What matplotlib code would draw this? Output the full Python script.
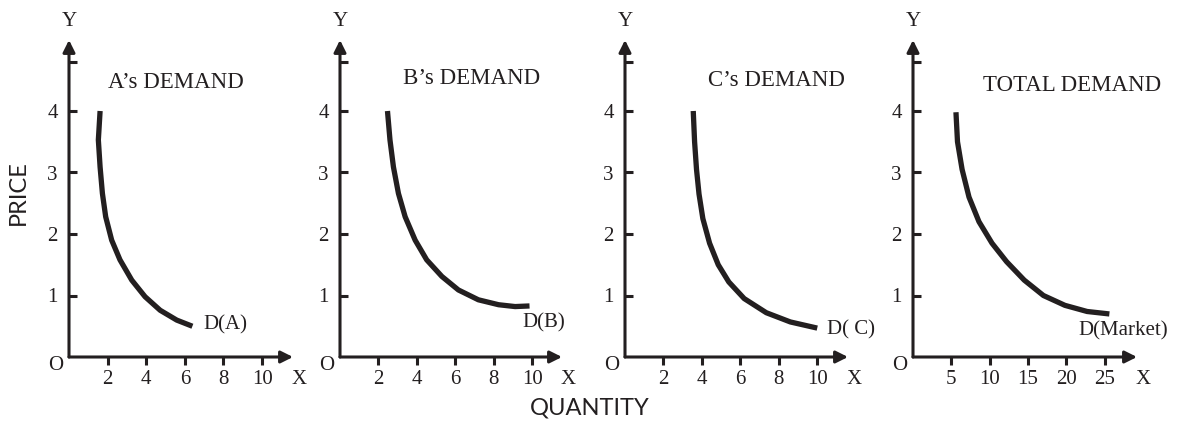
import matplotlib
matplotlib.use("Agg")
from matplotlib import pyplot as plt

# demand schedules (quantity, price)
qty_a = [1.61, 1.52, 1.61, 1.73, 1.90, 2.21, 2.64, 3.25, 3.94, 4.72, 5.58, 6.39]
price_a = [4.0, 3.53, 3.09, 2.66, 2.28, 1.90, 1.58, 1.25, 0.98, 0.76, 0.60, 0.50]

qty_b = [2.47, 2.60, 2.78, 3.04, 3.39, 3.91, 4.51, 5.30, 6.16, 7.20, 8.25, 9.11, 9.86]
price_b = [4.0, 3.53, 3.09, 2.66, 2.28, 1.90, 1.58, 1.31, 1.09, 0.93, 0.85, 0.82, 0.83]

qty_c = [3.55, 3.62, 3.72, 3.85, 4.05, 4.4, 4.85, 5.4, 6.2, 7.35, 8.6, 10.0]
price_c = [4.0, 3.5, 3.05, 2.65, 2.25, 1.85, 1.5, 1.22, 0.95, 0.72, 0.57, 0.47]

qty_tot = [5.6, 5.8, 6.4, 7.3, 8.6, 10.3, 12.2, 14.5, 17.0, 19.8, 22.7, 25.6]
price_tot = [3.98, 3.5, 3.05, 2.6, 2.2, 1.85, 1.55, 1.25, 1.0, 0.84, 0.74, 0.7]

titles = ["A’s DEMAND", "B’s DEMAND", "C’s DEMAND", "TOTAL DEMAND"]
curve_labels = ["D(A)", "D(B)", "D( C)", "D(Market)"]
x_ticks = [[2, 4, 6, 8, 10], [2, 4, 6, 8, 10], [2, 4, 6, 8, 10], [5, 10, 15, 20, 25]]
y_ticks = [1, 2, 3, 4]

INK = "#231f20"
W, H = 1190, 433
serif = "Liberation Serif"

fig = plt.figure(figsize=(W / 100, H / 100), dpi=100)

# panel layout in pixels: y-axis x, arrow tip x, x-axis max value, title pos, curve label pos
panels = [
    (69, 293, 11.6, (2.0, 4.47), (6.95, 0.52)),
    (340, 562, 11.55, (3.3, 4.53), (9.5, 0.56)),
    (625, 848, 11.6, (4.3, 4.5), (10.5, 0.44)),
    (913, 1137, 29.2, (9.1, 4.42), (21.5, 0.42)),
]
curves = [(qty_a, price_a), (qty_b, price_b), (qty_c, price_c), (qty_tot, price_tot)]

x0_px, top_px = 357, 40
ymax = (x0_px - top_px) / 61.5

for i, (yx, tip, xmax, tpos, lpos) in enumerate(panels):
    ax = fig.add_axes([yx / W, (H - x0_px) / H, (tip - yx) / W, (x0_px - top_px) / H])
    ax.set_xlim(0, xmax)
    ax.set_ylim(0, ymax)
    for s in ax.spines.values():
        s.set_visible(False)
    ax.patch.set_alpha(0)

    # axis lines with arrow heads
    arr = dict(arrowstyle="-|>", lw=2.2, color=INK, mutation_scale=18,
               shrinkA=0, shrinkB=0)
    ax.annotate("", xy=(1, 0), xytext=(0, 0), xycoords="axes fraction",
                arrowprops=arr, annotation_clip=False)
    ax.annotate("", xy=(0, 1), xytext=(0, 0), xycoords="axes fraction",
                arrowprops=arr, annotation_clip=False)

    ax.set_xticks(x_ticks[i])
    ax.set_xticklabels([str(t) for t in x_ticks[i]], fontfamily=serif, fontsize=15)
    ax.set_yticks(y_ticks + [4.8])
    ax.set_yticklabels([str(t) for t in y_ticks] + [""], fontfamily=serif, fontsize=15)
    ax.tick_params(axis="x", direction="out", length=6, width=2.2, color=INK,
                   labelcolor=INK, pad=3)
    ax.tick_params(axis="y", direction="in", length=6, width=2.2, color=INK,
                   labelcolor=INK, pad=8)

    q, p = curves[i]
    ax.plot(q, p, color=INK, lw=3.8, solid_capstyle="butt", solid_joinstyle="round")

    ax.text(tpos[0], tpos[1], titles[i], fontfamily=serif, fontsize=16.5,
            color=INK, ha="left", va="center")
    ax.text(lpos[0], lpos[1], curve_labels[i], fontfamily=serif, fontsize=15,
            color=INK, ha="left", va="center")

    ax.annotate("O", xy=(0, 0), xycoords="axes fraction", xytext=(-13, -8),
                textcoords="offset pixels", ha="center", va="center",
                fontfamily=serif, fontsize=15, color=INK)
    ax.annotate("X", xy=(1, 0), xycoords="axes fraction", xytext=(6, -23),
                textcoords="offset pixels", ha="center", va="center",
                fontfamily=serif, fontsize=15, color=INK)
    ax.annotate("Y", xy=(0, 1), xycoords="axes fraction", xytext=(0, 18),
                textcoords="offset pixels", ha="center", va="center",
                fontfamily=serif, fontsize=15, color=INK)

fig.text(18 / W, 1 - 193 / H, "PRICE", rotation=90, ha="center", va="center",
         fontfamily="Lato", fontsize=17, color=INK)
fig.text(590 / W, 1 - 408 / H, "QUANTITY", ha="center", va="center",
         fontfamily="Lato", fontsize=17, color=INK)

fig.savefig("out.png", dpi=100)
